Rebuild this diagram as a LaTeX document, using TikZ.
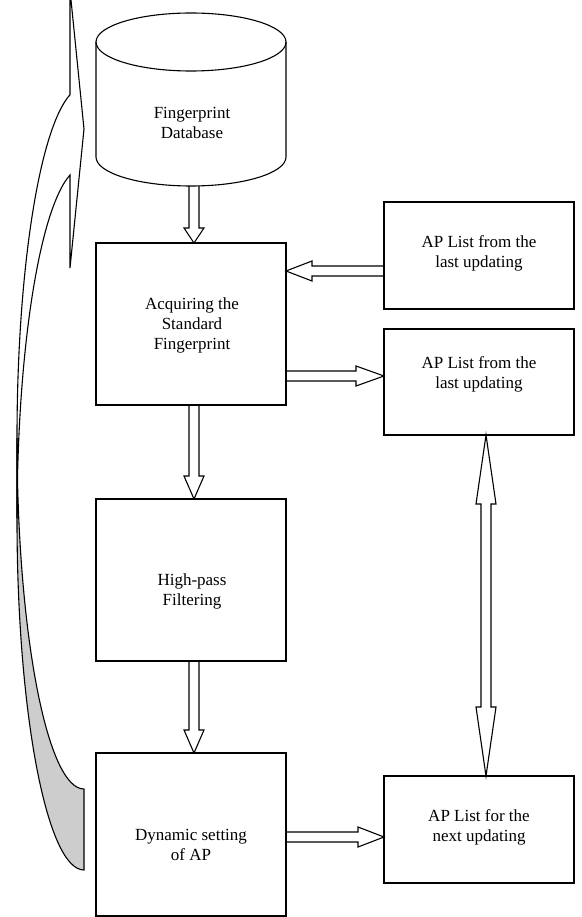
\documentclass[tikz,border=0pt]{standalone}
\usepackage{fontspec}
\setmainfont{Liberation Serif}
\usetikzlibrary{calc}
\definecolor{shadegray}{RGB}{205,205,205}
\newcommand\blkv[3]{\draw[blk] let \p1=(#1), \p2=(#2) in
  (\x1-5pt,\y1) -- (\x1-5pt,\y2+#3) -- (\x1-10pt,\y2+#3) -- (\x2,\y2)
  -- (\x1+10pt,\y2+#3) -- (\x1+5pt,\y2+#3) -- (\x1+5pt,\y1);}
\newcommand\blkl[3]{\draw[blk] let \p1=(#1), \p2=(#2) in
  (\x1,\y1+5pt) -- (\x2+#3,\y1+5pt) -- (\x2+#3,\y1+10pt) -- (\x2,\y1)
  -- (\x2+#3,\y1-10pt) -- (\x2+#3,\y1-5pt) -- (\x1,\y1-5pt);}
\newcommand\blkr[3]{\draw[blk] let \p1=(#1), \p2=(#2) in
  (\x1,\y1+5pt) -- (\x2-#3,\y1+5pt) -- (\x2-#3,\y1+10pt) -- (\x2,\y1)
  -- (\x2-#3,\y1-10pt) -- (\x2-#3,\y1-5pt) -- (\x1,\y1-5pt);}
\begin{document}
\begin{tikzpicture}[x=1pt,y=-1pt, line width=1.1pt, line join=miter,
  box/.style={draw, minimum width=190pt, inner sep=0pt, outer sep=0pt},
  lbl/.style={font=\fontsize{17}{20}\selectfont, align=center, inner sep=0pt},
  blk/.style={draw, line width=1.1pt, line join=miter},
  curved/.style={draw, line width=1.1pt, line join=miter}]
\useasboundingbox (0,0) rectangle (581,917);

% curved arrow on the left
\draw[curved, fill=shadegray] (17,438) arc[start angle=180, end angle=90, x radius=67, y radius=351]
  -- (84,870) arc[start angle=90, end angle=180, x radius=67, y radius=351] -- cycle;
\draw[curved] (17,438) arc[start angle=180, end angle=257.9, x radius=67, y radius=351]
  -- (70,-10) -- (84,129) -- (70,268) -- (70,175)
  arc[start angle=257.9, end angle=180, x radius=67, y radius=351] -- cycle;

% database cylinder
\node[minimum width=190pt, minimum height=173pt, inner sep=0pt, outer sep=0pt] (db) at (191,99.5) {};
\draw (96,42) -- (96,157) arc[start angle=180, end angle=0, x radius=95, y radius=29] -- (286,42);
\draw (191,42) ellipse [x radius=95, y radius=29];
\node[lbl] (dbt) at (192,123) {Fingerprint\\Database};

% boxes
\node[box, minimum height=162pt] (acq) at (191,324) {};
\node[box, minimum height=162pt] (hp) at (191,580) {};
\node[box, minimum height=163pt] (dyn) at (191,834.5) {};
\node[box, minimum height=107pt] (ap1) at (479,255.5) {};
\node[box, minimum height=106pt] (ap2) at (479,382) {};
\node[box, minimum height=107pt] (apn) at (479,829.5) {};

\node[lbl] (acqt) at (192,325) {Acquiring the\\Standard\\Fingerprint};
\node[lbl] (hpt) at (192,591) {High-pass\\Filtering};
\node[lbl] (dynt) at (191,845) {Dynamic setting\\of AP};
\node[lbl] (ap1t) at (479,253) {AP List from the\\last updating};
\node[lbl] (ap2t) at (479,374) {AP List from the\\last updating};
\node[lbl] (apnt) at (479,827) {AP List for the\\next updating};

% block arrows
\blkv{$(db.south)+(3,0)$}{$(acq.north)+(3,0)$}{15pt}
\blkv{$(acq.south)+(3,0)$}{$(hp.north)+(3,0)$}{23pt}
\blkv{$(hp.south)+(3,0)$}{$(dyn.north)+(3,0)$}{23pt}
\blkl{$(ap1.west)+(0,15.5)$}{$(acq.east)+(0,-53)$}{26pt}
\blkr{$(acq.east)+(0,52)$}{$(ap2.west)+(0,-6)$}{28pt}
\blkr{$(dyn.east)+(0,2.5)$}{$(apn.west)+(0,7.5)$}{26pt}
\draw[blk] let \p1=($(ap2.south)+(7,0)$), \p2=($(apn.north)+(7,0)$) in
  (\x1,\y1) -- (\x1+10pt,\y1-69pt) -- (\x1+5pt,\y1-69pt) -- (\x1+5pt,\y2+69pt)
  -- (\x1+10pt,\y2+69pt) -- (\x2,\y2) -- (\x1-10pt,\y2+69pt) -- (\x1-5pt,\y2+69pt)
  -- (\x1-5pt,\y1-69pt) -- (\x1-10pt,\y1-69pt) -- cycle;
\end{tikzpicture}
\end{document}
